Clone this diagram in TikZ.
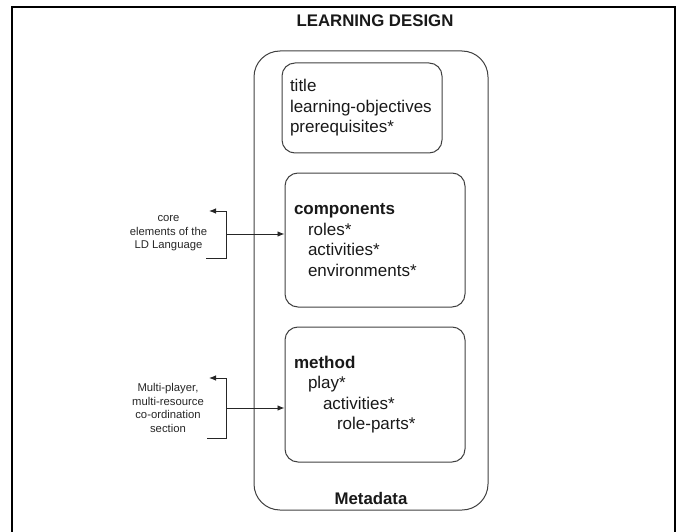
\documentclass[tikz,border=0pt]{standalone}
\usepackage{fontspec}
\setmainfont{Liberation Sans}
\usetikzlibrary{arrows.meta, positioning, calc}

\begin{document}
\begin{tikzpicture}[
    x=1pt, y=-1pt,
    >={Latex[length=7pt, width=5.5pt]}, % 实心三角箭头
    frame/.style={black, line width=2pt},           % 外框:粗黑线
    outerbox/.style={draw=black!75, line width=1pt, rounded corners=26pt,
        minimum width=234pt, minimum height=459pt, inner sep=0pt},  % 大圆角框
    part/.style={draw=black!75, line width=1pt, rounded corners=13pt,
        align=left, inner sep=0pt, font=\fontsize{17}{20.5}\selectfont,
        text=black!90},                              % 内部圆角框
    side/.style={align=center, text=black!85,
        font=\fontsize{11.3}{13.6}\selectfont},     % 左侧说明文字
    link/.style={black!85, line width=0.9pt}        % 括号与连线
]
    \useasboundingbox (0,0) rectangle (680,532);

    % 1. 外框(底边在图外)
    \draw[frame] (12,540) -- (12,7) -- (675,7) -- (675,540);
    \node[font=\fontsize{16.8}{20}\selectfont\bfseries, text=black!90] (title) at (375,21) {LEARNING DESIGN};

    % 2. 大框与三个内部框
    \node[outerbox] (ld) at (371,280.5) {};
    \node[font=\fontsize{16.8}{20}\selectfont\bfseries, text=black!90] (meta) at (371,498) {Metadata};

    \node[part, minimum width=160pt, minimum height=90pt, text width=144pt] (head) at (362,108)
        {title\\learning-objectives\\prerequisites*};
    \node[part, minimum width=180pt, minimum height=134pt, text width=162pt] (comp) at (375,240)
        {\textbf{components}\\\hspace*{14pt}roles*\\\hspace*{14pt}activities*\\\hspace*{14pt}environments*};
    \node[part, minimum width=180pt, minimum height=135pt, text width=162pt] (meth) at (375,394.5)
        {\textbf{method}\\\hspace*{14pt}play*\\\hspace*{29pt}activities*\\\hspace*{43pt}role-parts*};

    % 3. 左侧说明文字
    \node[side] (core) at (168.5,233.5) {core\\elements of the\\LD Language};
    \node[side] (coord) at (168,408) {Multi-player,\\multi-resource\\co-ordination\\section};

    % 4. 括号与箭头
    \coordinate (tipA) at (209,211);
    \coordinate (topA) at (226,211);
    \coordinate (botA) at (226,258);
    \coordinate (endA) at (206,258);
    \coordinate (midA) at (226,234);
    \draw[link, ->] (topA) -- (tipA);
    \draw[link] (topA) -- (botA) -- (endA);
    \draw[link, ->] (midA) -- (comp.west |- midA);

    \coordinate (tipB) at (209,378);
    \coordinate (topB) at (226,378);
    \coordinate (botB) at (226,438);
    \coordinate (endB) at (207,438);
    \coordinate (midB) at (226,408);
    \draw[link, ->] (topB) -- (tipB);
    \draw[link] (topB) -- (botB) -- (endB);
    \draw[link, ->] (midB) -- (meth.west |- midB);
\end{tikzpicture}
\end{document}
